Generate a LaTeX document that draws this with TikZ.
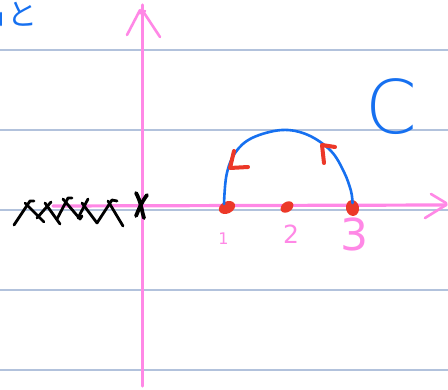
\documentclass[tikz,border=0pt]{standalone}
\usepackage{fontspec}
\usetikzlibrary{shapes.geometric}
\newfontfamily\handfont{DejaVu Sans}[UprightFont={* ExtraLight}]
\newfontfamily\digitfont{DejaVu Sans}
\newfontfamily\jpfont{Noto Sans CJK JP}
\definecolor{rulegray}{RGB}{178,194,220}
\definecolor{axispink}{RGB}{255,136,230}
\definecolor{inkblue}{RGB}{22,112,240}
\definecolor{inkred}{RGB}{236,56,40}
\tikzset{
  rule/.style={rulegray,line width=1.4pt},
  axis/.style={axispink,line width=3.2pt,line cap=round,line join=round},
  tip/.style={axispink,line width=2.6pt,line cap=round,line join=round},
  blueink/.style={inkblue,line width=2.6pt,line cap=round,line join=round},
  redmark/.style={inkred,line width=4pt,line cap=round,line join=round},
  blackink/.style={black,line width=2.8pt,line cap=round,line join=round},
  reddot/.style={ellipse,fill=inkred,inner sep=0pt},
  pinklabel/.style={text=axispink,inner sep=0pt},
}
\begin{document}
\begin{tikzpicture}[x=1pt,y=-1pt]
\useasboundingbox (0,0) rectangle (448,390);
\fill[white] (0,0) rectangle (448,390);
% ruled lines
\foreach \yy in {50,130,210,290,370} \draw[rule] (0,\yy) -- (448,\yy);
% axes
\coordinate (xs) at (53,206);
\coordinate (xe) at (446,205);
\coordinate (ys) at (142.5,386);
\coordinate (ye) at (142.5,5);
\draw[axis] (xs) -- (xe);
\draw[axis] (ys) -- (ye);
\coordinate (xa1) at (431,194);
\coordinate (xa2) at (446,203);
\coordinate (xa3) at (425,218);
\draw[tip] (xa1) -- (xa2) -- (xe) -- (xa3);
\coordinate (ya1) at (127,35);
\coordinate (ya2) at (140,10);
\coordinate (ya3) at (143.5,12);
\coordinate (ya4) at (160,37);
\draw[tip] (ya1) -- (ya2) .. controls (137,13) and (141,15) .. (145,11);
\draw[tip] (ya3) -- (ya4);
% crosses on the negative axis
\draw[blackink] (14,225) -- (30,201) -- (34,201);
\draw[blackink] (25,203) -- (44,222);
\draw[blackink] (37,218) -- (51,202);
\draw[blackink] (45,203) -- (60,224);
\draw[blackink] (57,219) -- (68,198) -- (72,198);
\draw[blackink] (63,199) -- (80,219) -- (82,216);
\draw[blackink] (78,218) -- (88,199);
\draw[blackink] (82,203) -- (97,223);
\draw[blackink] (97,223) -- (112,200) -- (117,201);
\draw[blackink] (108,201) -- (123,226);
\draw[black,line width=3.8pt,line cap=round] (136,193) .. controls (141,202) and (141,208) .. (144,218);
\draw[black,line width=3.8pt,line cap=round] (147,195) .. controls (141,203) and (139,209) .. (136,216);
% points on the axis
\node[reddot,minimum width=17pt,minimum height=12pt,rotate=25] (p1) at (227,207.5) {};
\node[reddot,minimum width=14pt,minimum height=10pt,rotate=35] (p2) at (287,207) {};
\node[reddot,minimum width=13pt,minimum height=16pt,rotate=10] (p3) at (352.5,208) {};
% the contour
\draw[blueink] plot[smooth,tension=0.6] coordinates {(224,204) (226.5,175) (235,153) (252,138) (282,130) (308,135) (331,151) (344,172) (351,191) (352.5,203)};
% direction marks
\draw[redmark] (234,151) -- (230,168) -- (248,167);
\draw[redmark] (324,163) -- (322,145) -- (335,147);
% labels
\node[pinklabel,font=\digitfont\fontsize{16}{16}\selectfont] (l1) at (223.5,239) {1};
\node[pinklabel,font=\digitfont\fontsize{25}{25}\selectfont] (l2) at (291,234) {2};
\node[pinklabel,font=\digitfont\fontsize{44}{44}\selectfont] (l3) at (354,234) {3};
\node[text=inkblue,inner sep=0pt,font=\handfont\fontsize{74}{74}\selectfont] (cl) at (391,107) {C};
\node[text=inkblue,inner sep=0pt,font=\jpfont\fontsize{30}{30}\selectfont] (jp) at (23,14) {と};
\coordinate (f1) at (1,13);
\coordinate (f2) at (1,25);
\draw[blueink] (f1) -- (f2);
\end{tikzpicture}
\end{document}
